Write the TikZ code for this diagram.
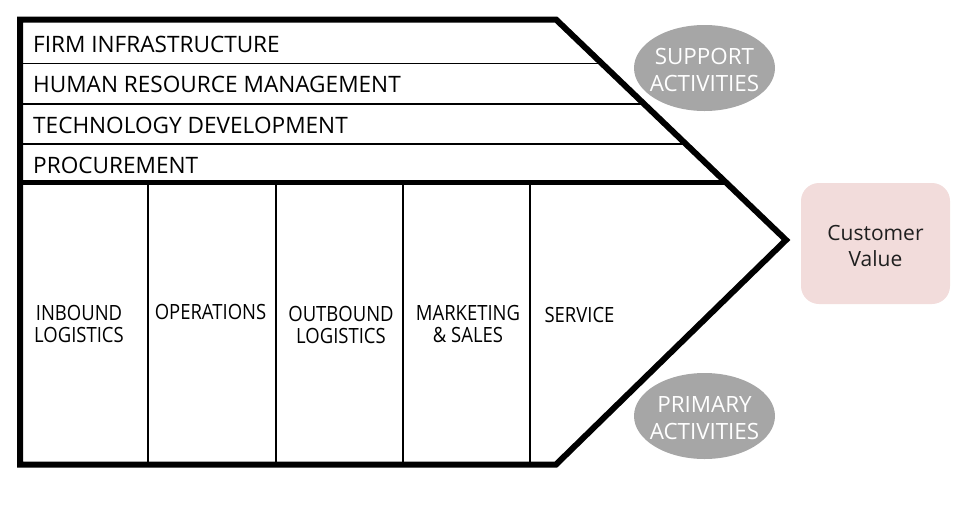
\documentclass[tikz,border=0pt]{standalone}
\usepackage{fontspec}
\usepackage{graphicx}
\setmainfont{Open Sans}
\definecolor{ellgray}{HTML}{A6A6A6}
\definecolor{cvpink}{HTML}{F2DCDB}
\definecolor{cvtext}{HTML}{1F1F1F}
\newcommand{\narrowtxt}[1]{\scalebox{0.88}[1]{#1}}
\begin{document}
\begin{tikzpicture}[x=1pt,y=-1pt,
  supportlbl/.style={anchor=base west,inner sep=0pt,font=\fontsize{22.6}{27}\selectfont},
  primarylbl/.style={anchor=base,inner sep=0pt,align=center,font=\fontsize{21}{22}\selectfont},
  elltext/.style={anchor=base,inner sep=0pt,align=center,text=white,font=\fontsize{22.4}{27}\selectfont},
  actell/.style={fill=ellgray},
  cvbox/.style={fill=cvpink,rounded corners=18pt,minimum width=149pt,minimum height=121pt,inner sep=0pt},
  cvlbl/.style={anchor=base,inner sep=0pt,align=center,text=cvtext,font=\fontsize{21}{26}\selectfont},
  thinline/.style={line width=1.2pt},
  colline/.style={line width=1.6pt},
  midline/.style={line width=5pt},
  outline/.style={line width=6pt,line join=miter}
]
\useasboundingbox (0,0) rectangle (963,507);
\coordinate (tl) at (20,19.5);
\coordinate (tr) at (556,19.5);
\coordinate (tip) at (786,240);
\coordinate (br) at (556,464.5);
\coordinate (bl) at (20,464.5);
\begin{scope}
  \clip (tl) -- (tr) -- (tip) -- (br) -- (bl) -- cycle;
  \draw[thinline] (20,63.5) -- (800,63.5);
  \draw[thinline] (20,104) -- (800,104);
  \draw[thinline] (20,144) -- (800,144);
  \draw[midline] (20,182.5) -- (800,182.5);
  \draw[colline] (148,182.5) -- (148,464.5);
  \draw[colline] (276,182.5) -- (276,464.5);
  \draw[colline] (403,182.5) -- (403,464.5);
  \draw[colline] (530,182.5) -- (530,464.5);
\end{scope}
\draw[outline] (tl) -- (tr) -- (tip) -- (br) -- (bl) -- cycle;
\node[supportlbl] (firm) at (33,52) {FIRM INFRASTRUCTURE};
\node[supportlbl] (hrm) at (33,92) {HUMAN RESOURCE MANAGEMENT};
\node[supportlbl] (tech) at (33,133) {TECHNOLOGY DEVELOPMENT};
\node[supportlbl] (proc) at (33,173) {PROCUREMENT};
\node[primarylbl] (inb) at (79,342) {\narrowtxt{INBOUND}\\\narrowtxt{LOGISTICS}};
\node[primarylbl] (ops) at (210.5,319) {\narrowtxt{OPERATIONS}};
\node[primarylbl] (outb) at (341,343) {\narrowtxt{OUTBOUND}\\\narrowtxt{LOGISTICS}};
\node[primarylbl] (mkt) at (468,342) {\narrowtxt{MARKETING}\\\narrowtxt{\& SALES}};
\node[primarylbl] (serv) at (579.5,322) {\narrowtxt{SERVICE}};
\fill[actell] (704.5,68) ellipse [x radius=70.5, y radius=43];
\node[elltext] (support) at (704.5,91) {SUPPORT\\ACTIVITIES};
\fill[actell] (704.5,416) ellipse [x radius=70.5, y radius=43];
\node[elltext] (primary) at (704.5,439) {PRIMARY\\ACTIVITIES};
\node[cvbox] (cv) at (875.5,243.5) {};
\node[cvlbl] (cvlabel) at (875.5,266.5) {Customer\\Value};
\end{tikzpicture}
\end{document}
